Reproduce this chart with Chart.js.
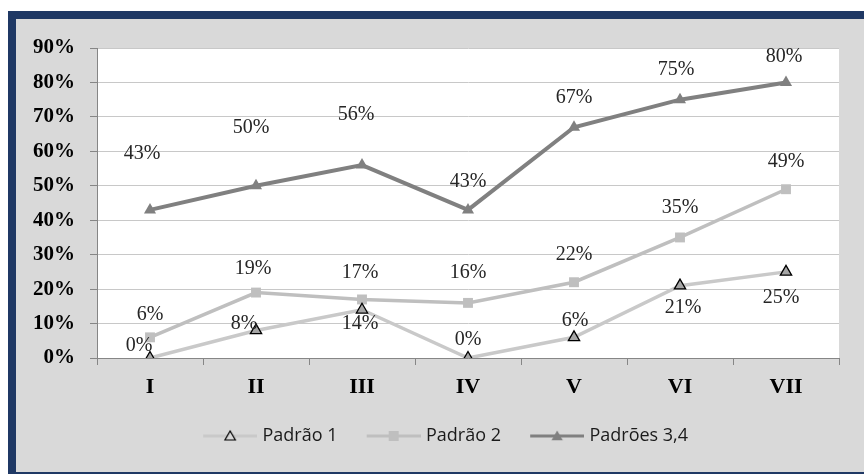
<!DOCTYPE html>
<html>
<head>
<meta charset="utf-8">
<script src="https://cdn.jsdelivr.net/npm/chart.js@4.4.0/dist/chart.umd.min.js"></script>
<style>
    html, body { margin: 0; padding: 0; background: #ffffff; overflow: hidden; }
    #frame {
        position: absolute; left: 8px; top: 11px;
        width: 900px; height: 453px;
        border: 8px solid #1f3864;
        background: #d9d9d9;
    }
    #grafico { position: absolute; left: 0; top: 0; }
</style>
</head>
<body>
<div id="frame"></div>
<canvas id="grafico" width="864" height="474"></canvas>
<script>
// --- dados ---
const categorias = ['I', 'II', 'III', 'IV', 'V', 'VI', 'VII'];
const padrao1 = [0, 8, 14, 0, 6, 21, 25];
const padrao2 = [6, 19, 17, 16, 22, 35, 49];
const padroes34 = [43, 50, 56, 43, 67, 75, 80];
const nomesSeries = ['Padrão 1', 'Padrão 2', 'Padrões 3,4'];
const yMin = 0, yMax = 90, yPasso = 10;

// deslocamento dos rótulos de dados (px, relativo ao ponto)
const rotuloDx = [
    [-11, -12, -2, 0, 1, 3, -5],
    [0, -3, -2, 0, 0, 0, 0],
    [-8, -5, -6, 0, 0, -4, -2]
];
const rotuloDy = [
    [-12, -7, 14, -18, -17, 22, 26],
    [-23, -24, -27, -30, -27, -30, -27],
    [-56, -58, -50, -28, -29, -30, -26]
];

const cinzaClaro = '#c9c9c9';
const cinzaMedio = '#bfbfbf';
const cinzaEscuro = '#808080';

// ícones da legenda (linha + marcador)
function iconeLegenda(corLinha, desenhaMarcador) {
    const c = document.createElement('canvas');
    c.width = 82; c.height = 16;
    const g = c.getContext('2d');
    g.strokeStyle = corLinha;
    g.lineWidth = 3;
    g.beginPath();
    g.moveTo(28, 8);
    g.lineTo(82, 8);
    g.stroke();
    desenhaMarcador(g, 55, 8);
    return c;
}
function triangulo(g, x, y, r) {
    g.beginPath();
    g.moveTo(x, y - r);
    g.lineTo(x + r * 0.866, y + r * 0.5);
    g.lineTo(x - r * 0.866, y + r * 0.5);
    g.closePath();
}
const icones = [
    iconeLegenda(cinzaClaro, (g, x, y) => {
        triangulo(g, x, y + 1, 6);
        g.fillStyle = '#d9d9d9'; g.fill();
        g.strokeStyle = '#000'; g.lineWidth = 1.2; g.stroke();
    }),
    iconeLegenda(cinzaMedio, (g, x, y) => {
        g.fillStyle = cinzaMedio; g.fillRect(x - 5, y - 5, 10, 10);
    }),
    iconeLegenda(cinzaEscuro, (g, x, y) => {
        triangulo(g, x, y + 1, 6.5);
        g.fillStyle = cinzaEscuro; g.fill();
    })
];

// fundo branco da área do gráfico
const fundoPlot = {
    id: 'fundoPlot',
    beforeDraw(chart) {
        const a = chart.chartArea;
        const ctx = chart.ctx;
        ctx.save();
        ctx.fillStyle = '#ffffff';
        ctx.fillRect(a.left, a.top, a.right - a.left, a.bottom - a.top);
        ctx.restore();
    }
};

// rótulos de dados
const rotulos = {
    id: 'rotulos',
    afterDatasetsDraw(chart) {
        const ctx = chart.ctx;
        ctx.save();
        ctx.font = '20px "Liberation Serif", "Times New Roman", serif';
        ctx.fillStyle = '#262626';
        ctx.textAlign = 'center';
        ctx.textBaseline = 'middle';
        chart.data.datasets.forEach((ds, i) => {
            chart.getDatasetMeta(i).data.forEach((p, j) => {
                ctx.fillText(ds.data[j] + '%', p.x + rotuloDx[i][j], p.y + rotuloDy[i][j]);
            });
        });
        ctx.restore();
    }
};

const fonteSerif = '"Liberation Serif", "Times New Roman", serif';

new Chart(document.getElementById('grafico'), {
    type: 'line',
    data: {
        labels: categorias,
        datasets: [
            {
                label: nomesSeries[0],
                data: padrao1,
                borderColor: cinzaClaro,
                borderWidth: 3.5,
                pointStyle: 'triangle',
                pointRadius: 6.5,
                pointBackgroundColor: '#a6a6a6',
                pointBorderColor: '#000000',
                pointBorderWidth: 1.3,
                tension: 0
            },
            {
                label: nomesSeries[1],
                data: padrao2,
                borderColor: cinzaMedio,
                borderWidth: 3.5,
                pointStyle: 'rect',
                pointRadius: 7,
                pointBackgroundColor: cinzaMedio,
                pointBorderColor: cinzaMedio,
                pointBorderWidth: 0,
                tension: 0
            },
            {
                label: nomesSeries[2],
                data: padroes34,
                borderColor: cinzaEscuro,
                borderWidth: 4,
                pointStyle: 'triangle',
                pointRadius: 7,
                pointBackgroundColor: cinzaEscuro,
                pointBorderColor: cinzaEscuro,
                pointBorderWidth: 0,
                tension: 0
            }
        ]
    },
    options: {
        responsive: false,
        animation: false,
        layout: { padding: { left: 28, top: 48, right: 25, bottom: 19 } },
        scales: {
            x: {
                offset: true,
                grid: { drawOnChartArea: false, offset: true, tickLength: 7, tickColor: '#868686' },
                border: { color: '#868686' },
                ticks: { color: '#000', padding: 9, font: { family: fonteSerif, size: 22, weight: 'bold' } },
                afterFit: s => { s.height = 64; }
            },
            y: {
                min: yMin,
                max: yMax,
                ticks: {
                    stepSize: yPasso,
                    color: '#000',
                    padding: 15,
                    font: { family: fonteSerif, size: 21, weight: 'bold' },
                    callback: v => v + '%'
                },
                grid: { color: '#c8c8c8', tickColor: '#868686', tickLength: 7 },
                border: { color: '#868686' },
                afterFit: s => { s.width = 69; }
            }
        },
        plugins: {
            tooltip: { enabled: false },
            legend: {
                position: 'bottom',
                labels: {
                    usePointStyle: true,
                    pointStyleWidth: 74.5,
                    padding: 5,
                    color: '#1a1a1a',
                    font: { family: '"Open Sans", sans-serif', size: 18 },
                    generateLabels: chart => {
                        const itens = Chart.defaults.plugins.legend.labels.generateLabels(chart);
                        itens.forEach((it, i) => { it.pointStyle = icones[i]; });
                        return itens;
                    }
                }
            }
        }
    },
    plugins: [fundoPlot, rotulos]
});
</script>
</body>
</html>
